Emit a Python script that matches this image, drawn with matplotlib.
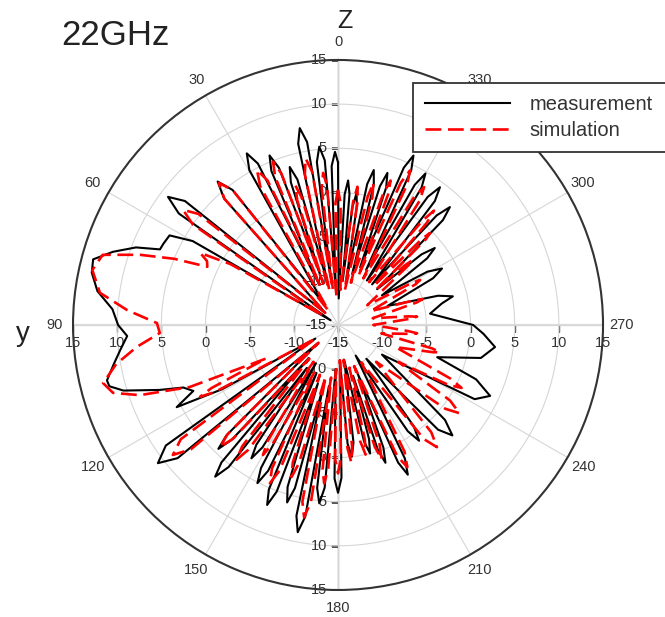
import numpy as np
import matplotlib
matplotlib.use("Agg")
import matplotlib.pyplot as plt

plt.rcParams['font.family'] = ['Liberation Sans', 'DejaVu Sans']

# measured pattern, 22 GHz (angle in degrees, gain in dB)
meas_theta = [0, 1, 2.3, 3.5, 4.6, 6, 7.4, 8.5, 9.6, 11, 12.4, 14, 15.6, 17, 18.3, 19.5,
              20.6, 22, 23.4, 25, 26.4, 28, 29.8, 34, 38, 40, 42, 46.5, 51, 53, 55, 57.5,
              60, 62, 65, 67, 69, 72, 75, 78, 82, 86, 90, 93, 96.5, 100, 103.5, 105, 107,
              110, 112, 114.5, 117, 119, 121, 125, 127.5, 129.7, 132,
              134.7, 136, 137.2, 138.5, 139.7, 141, 142.4, 144, 145.7, 147, 148.3, 150,
              151.7, 153, 154.4, 156, 157.2, 158.5, 159.8, 161, 162.7, 164, 165.2, 166.5,
              167.7, 169, 170.3, 171.5, 172.7, 174, 175.3, 177, 178.7, 180, 181.3, 183,
              184.6, 186, 187.5, 190, 192.6, 194, 195.2, 196.5, 197.7, 199, 200.3, 202,
              203.6, 205, 206.6, 210, 213.3, 215, 216.8, 220, 223.7, 226, 228.4, 236,
              241.5, 245, 248.5, 252, 257, 262, 266.5, 270, 277,
              281.7, 284, 286.3, 291, 296.2, 298.5, 300.8, 304, 306.8, 308.5, 310.2, 312.5,
              315, 316.5, 318, 320, 322, 323.5, 325, 327, 328.7, 330, 331.3, 333,
              334.7, 336, 337.3, 339, 340.7, 342, 343.2, 344.5, 345.7, 347, 348.3, 349.5,
              351, 352, 353, 354, 355, 356, 357.1, 358.5, 360]
meas_db = [3.4, 4.6, 3.0, -11, 3.7, 5.3, 3.6, -10, 6.0, 7.7, 6.0, -10, 2.1, 3.7, 2.0, -9,
           4.0, 5.7, 4.0, -10, 5.4, 7.0, 5.2, -12, 4.4, 6.2, 4.3, -13, 7.3, 9.1, 7.0, -14,
           4.0, 6.6, 6.8, 6.9, 9.5, 11.8, 13.7, 13.5, 12.5, 10.6, 9.9, 8.9, 9.8, 10.8, 11.9, 11.8, 10.4,
           6.5, 3.9, 3.0, 5.5, 0.0, -12, 8.8, 10.7, 8.6, -12,
           2.8, 4.5, 2.7, -10, 5.4, 7.1, 5.3, -9, 1.4, 3.0, 1.3, -10,
           3.4, 5.1, 3.3, -9, 5.2, 6.9, 5.1, -8, 4.2, 5.9, 4.1, -8,
           7.1, 8.9, 7.0, -8, 3.6, 5.3, 3.5, -10, 2.4, 4.0, 2.3, -11,
           -1.5, 0.0, -1.6, -11, -1.5, 0.0, -1.6, -9, -0.1, 1.5, -0.2, -9,
           2.0, 3.7, 1.9, -11, -0.6, 1.0, -0.7, -10, 1.4, 3.0, 1.2, -9,
           2.6, 4.0, 1.8, -3.2, 1.6, 2.95, 1.5, 0.3, -4.5,
           -3.0, -1.6, -3.2, -9, -3.0, -1.6, -3.2, -9, -2.4, -1.0, -2.6, -9,
           1.8, 3.4, 1.7, -9, 2.8, 4.4, 2.7, -9, 3.2, 4.8, 3.1, -8,
           4.4, 6.0, 4.3, -8, 1.5, 3.1, 1.4, -9, 1.4, 3.0, 1.3, -10,
           -1.4, 0.1, -1.5, -10, -0.1, 1.4, -0.2, -12, 3.4]

# simulated pattern
sim_theta = [0, 1.2, 3, 4.5, 5.6, 6.8, 8.3, 9.6, 11, 12.4, 14, 15.9, 17, 18.1, 19.5,
             20.5, 21.7, 23, 24.5, 26, 27.6, 29.3, 34, 38, 40, 42, 46.5,
             51.5, 53.4, 55.3, 58,
             60.5, 62.4, 64, 66, 68, 70.5, 73.4, 77.4, 82.3, 86, 89.4, 92.6, 96.2, 100,
             103.9, 106.8, 109.5, 112.7, 115, 116.5, 117.5, 118.6, 121,
             126, 128.2, 130.2, 132.5, 134.7, 136, 137.3, 139.5, 141.7, 143, 144.3, 146.5,
             148.8, 150, 151.2, 153.5, 155.3, 156.7, 158.1, 160, 161.8, 163, 164.2, 166.5,
             168.6, 170, 171.3, 172.5, 173.9, 175, 176.1, 177.5, 178.8, 180, 181.2, 183,
             184.4, 185.5, 186.6, 189, 190.8, 192, 193.2, 195, 196.8, 198, 199.2, 201.5,
             204.3, 206, 207.7, 212, 217, 219, 221, 226, 232, 234, 236, 238.5,
             241.5, 243, 244.5, 249, 254, 255, 256, 259, 263, 264, 265, 270,
             275, 276, 277, 281, 286, 287, 288, 293, 297.7, 298.7, 299.7, 304,
             310.3, 311, 311.7, 313, 314.3, 315, 315.7, 317.5, 319, 320, 321, 324,
             326.7, 328, 329.3, 331.5, 333.8, 335, 336.2, 337.5, 339, 340, 341, 343,
             345, 346, 347, 349, 351, 352, 353, 356, 358.8, 360]
sim_db = [0.3, -1.2, -12, 0.8, 2.3, 0.6, -11, 2.6, 4.2, 2.5, -11, 0.0, 1.5, -0.1, -10,
          3.3, 4.9, 3.2, -10, 3.2, 4.8, 3.0, -13, 4.4, 6.0, 4.2, -13,
          5.2, 6.85, 5.0, -13,
          -1.0, 2.6, 1.5, 1.2, 5.0, 8.8, 12.8, 13.5, 12.2, 8.9, 5.5, 5.2, 7.9, 10.5,
          12.4, 11.6, 8.8, 3.2, -6, 1.0, 2.6, 0.8, -12,
          7.0, 8.8, 6.8, -12, 2.6, 4.2, 2.5, -10, 2.5, 4.1, 2.4, -10,
          0.4, 2.0, 0.3, -9, 2.9, 4.5, 2.8, -9, 1.4, 3.0, 1.3, -9,
          5.4, 7.1, 5.2, -9, 1.4, 3.0, 1.3, -10, 0.2, 1.8, 0.1, -11,
          -1.0, 0.6, -1.1, -11, -1.6, 0.0, -1.7, -10, -0.6, 1.0, -0.7, -10,
          1.3, 2.9, 1.2, -10, 1.2, 2.8, 1.1, -9, 0.4, 2.0, 0.3, -7,
          -0.8, 0.7, -0.9, -8, -3.8, -3.1, -4.0, -10, -6.7, -6.0, -7.0, -11,
          -6.7, -6.0, -7.0, -11, -5.7, -5.0, -6.0, -11, -5.1, -4.4, -5.3, -11,
          -4.5, -3.8, -4.8, -9, -1.1, -0.3, -1.3, -9, 0.3, 1.9, 0.2, -9,
          1.8, 3.4, 1.7, -9, 2.7, 4.3, 2.6, -9, 0.8, 2.4, 0.7, -10,
          0.0, 1.6, -0.1, -11, -0.8, 0.8, -0.9, -11, -1.2, 0.3]

angle_ticks = [0, 30, 60, 90, 120, 150, 180, 210, 240, 270, 300, 330]
r_ticks = [-15, -10, -5, 0, 5, 10, 15]

fig = plt.figure(figsize=(6.65, 6.17), dpi=100)
ax = fig.add_axes([0.1098, 0.0438, 0.797, 0.859], projection='polar')
ax.set_theta_zero_location('N')
ax.set_theta_direction(1)
ax.set_ylim(-15, 15)

ax.set_yticks(r_ticks[1:])
ax.set_yticklabels([])
ax.set_xticks(np.deg2rad(angle_ticks))
ax.set_xticklabels([str(a) for a in angle_ticks])
ax.tick_params(axis='x', direction='out', length=4, width=1, pad=2,
               labelsize=10.5, colors='#333333')
ax.grid(color='#d6d6d6', lw=0.8)
ax.spines['polar'].set_color('#333333')
ax.spines['polar'].set_linewidth(1.5)

# axis lines through the centre, with tick marks and dB labels
for t in [0, np.pi]:
    ax.plot([t, t], [-15, 15], color='#9a9a9a', lw=1.0, zorder=1)
    ax.plot([t] * len(r_ticks), r_ticks, ls='none', marker=0, ms=5,
            mew=1, color='#555555', zorder=1)
    for r in r_ticks:
        ax.annotate(str(r), xy=(t, r), xytext=(-8, 0), textcoords='offset points',
                    ha='right', va='center', fontsize=10.5, color='#333333')
for t in [np.pi / 2, 3 * np.pi / 2]:
    ax.plot([t, t], [-15, 15], color='#dcdcdc', lw=1.6, zorder=1)
    ax.plot([t] * len(r_ticks), r_ticks, ls='none', marker=3, ms=5,
            mew=1, color='#555555', zorder=1)
    for r in r_ticks:
        ax.annotate(str(r), xy=(t, r), xytext=(0, -8), textcoords='offset points',
                    ha='center', va='top', fontsize=10.5, color='#333333')

ax.plot(np.deg2rad(meas_theta), meas_db, color='black', lw=1.5, label='measurement', zorder=3)
ax.plot(np.deg2rad(sim_theta), sim_db, color='red', lw=1.9, dashes=(6, 2.5),
        label='simulation', zorder=4)

leg = ax.legend(loc='upper left', bbox_to_anchor=(0.621, 0.752, 0.5, 0.1135),
                bbox_transform=fig.transFigure, mode='expand', borderaxespad=0,
                fancybox=False, framealpha=1, edgecolor='#333333', borderpad=0.6,
                handlelength=4.2, handletextpad=1.0, labelspacing=0.35, fontsize=14.5)
leg.get_frame().set_linewidth(1.3)
for txt in leg.get_texts():
    txt.set_color('#333333')

fig.text(0.174, 0.927, '22GHz', fontsize=25, color='#222222', ha='center', va='baseline')
fig.text(0.518, 0.955, 'Z', fontsize=18, color='#222222', ha='center', va='baseline')
fig.text(0.035, 0.447, 'y', fontsize=20, color='#222222', ha='center', va='baseline')

fig.savefig('out.png', dpi=100)
